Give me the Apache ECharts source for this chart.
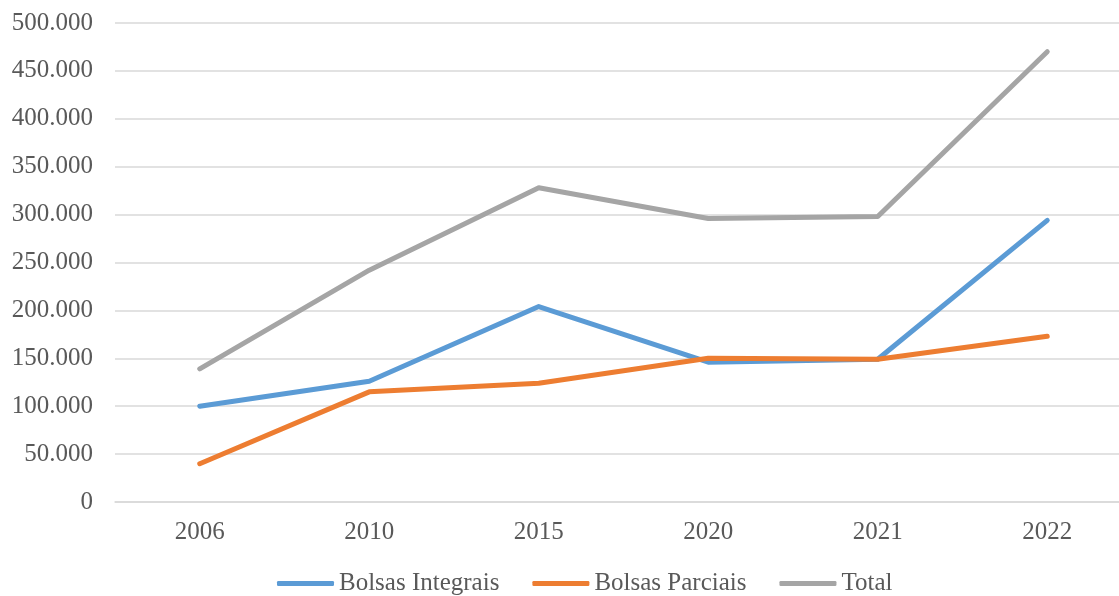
<!DOCTYPE html>
<html>
<head>
<meta charset="utf-8">
<script src="https://cdn.jsdelivr.net/npm/echarts@6/dist/echarts.min.js"></script>
<style>
html,body{margin:0;padding:0;background:#fff;overflow:hidden;}
#chart{width:1119px;height:596px;}
</style>
</head>
<body>
<div id="chart"></div>
<script>
const categories = ['2006', '2010', '2015', '2020', '2021', '2022'];
const bolsasIntegrais = [100000, 126000, 204000, 146000, 149000, 294000];
const bolsasParciais = [40000, 115000, 124000, 150000, 149000, 173000];
const total = [139000, 242000, 328000, 296000, 298000, 470000];
const seriesNames = ['Bolsas Integrais', 'Bolsas Parciais', 'Total'];

const fontFamily = '"Liberation Serif", "Times New Roman", serif';
const chart = echarts.init(document.getElementById('chart'));
function fmt(v) {
  return String(v).replace(/\B(?=(\d{3})+(?!\d))/g, '.');
}
const mk = (name, data, color) => ({
  name, type: 'line', data,
  symbol: 'none',
  lineStyle: { width: 5, color, cap: 'round', join: 'round' },
  itemStyle: { color },
  emphasis: { disabled: true }
});
chart.setOption({
  animation: false,
  grid: { left: 115, top: 23, width: 1017, height: 479, containLabel: false, outerBoundsMode: 'none' },
  xAxis: {
    type: 'category',
    data: categories,
    boundaryGap: true,
    axisLine: { show: true, lineStyle: { color: '#d9d9d9', width: 1.5 } },
    axisTick: { show: false },
    axisLabel: { color: '#595959', fontFamily, fontSize: 25, margin: 18 }
  },
  yAxis: {
    type: 'value',
    min: 0, max: 500000, interval: 50000,
    axisLine: { show: false },
    axisTick: { show: false },
    splitLine: { lineStyle: { color: '#d9d9d9', width: 1.5 } },
    axisLabel: { color: '#595959', fontFamily, fontSize: 25, margin: 22, formatter: fmt }
  },
  legend: {
    data: seriesNames,
    left: 272,
    top: 566,
    icon: 'roundRect',
    itemWidth: 57,
    itemHeight: 5,
    itemGap: 33,
    textStyle: { color: '#595959', fontFamily, fontSize: 25 }
  },
  series: [
    mk('Bolsas Integrais', bolsasIntegrais, '#5B9BD5'),
    mk('Bolsas Parciais', bolsasParciais, '#ED7D31'),
    mk('Total', total, '#A5A5A5')
  ]
});
</script>
</body>
</html>
